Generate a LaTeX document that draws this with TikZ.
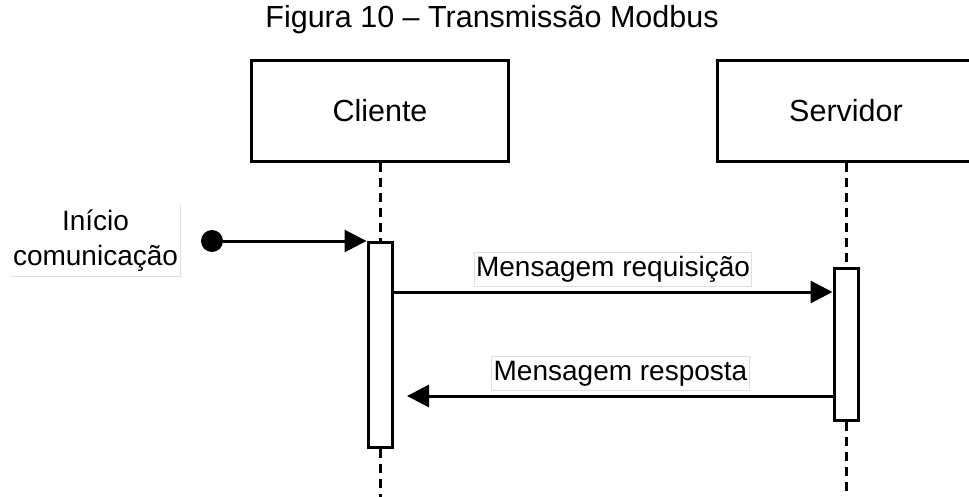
\documentclass[tikz,border=0pt]{standalone}
\usepackage{fontspec}
\setmainfont{Liberation Sans}
\usetikzlibrary{arrows.meta}

\tikzset{
  lifebox/.style={draw, line width=3pt, fill=white, minimum width=257pt,
    minimum height=101pt, inner sep=0pt, font=\fontsize{30.5}{36}\selectfont},
  actbar/.style={draw, line width=3pt, fill=white, minimum width=24pt, inner sep=0pt},
  lifeline/.style={line width=3pt, dash pattern=on 9pt off 6pt},
  msg/.style={line width=3pt, -{Triangle[length=22pt,width=22pt]}},
  msglabel/.style={draw=black!12, line width=1pt, fill=white, inner xsep=2pt,
    inner ysep=0pt, minimum height=34pt, font=\fontsize{28}{35}\selectfont},
  startdot/.style={circle, fill=black, minimum size=22pt, inner sep=0pt},
}

\begin{document}
\begin{tikzpicture}[x=1pt, y=-1pt]
  \useasboundingbox (0,0) rectangle (969,497);
  \fill[white] (0,0) rectangle (969,497);

  % caption
  \node[anchor=base, font=\fontsize{30.5}{36}\selectfont] (title) at (492,28)
    {Figura 10 – Transmissão Modbus};

  % participants
  \node[lifebox] (cli) at (380,111) {Cliente};
  \node[lifebox] (srv) at (846,111) {Servidor};

  % activation bars
  \node[actbar, minimum height=205pt] (cbar) at (380,345) {};
  \node[actbar, minimum height=152pt] (sbar) at (846,344.5) {};

  % lower ends of the lifelines and message rows
  \coordinate (cend) at (380,500);
  \coordinate (send) at (846,500);
  \coordinate (reqrow) at (0,292);
  \coordinate (resrow) at (0,396);
  \coordinate (resend) at (407,396);

  % lifelines
  \draw[lifeline] (cli.south) -- (cbar.north);
  \draw[lifeline] (cbar.south) -- (cend);
  \draw[lifeline] (srv.south) -- (sbar.north);
  \draw[lifeline] (sbar.south) -- (send);

  % redraw bars above the lifelines
  \node[actbar, minimum height=205pt] at (cbar) {};
  \node[actbar, minimum height=152pt] at (sbar) {};

  % initial message
  \node[startdot] (start) at (212,241) {};
  \node[align=center, inner sep=0pt, minimum width=169pt, minimum height=71pt,
    font=\fontsize{28}{35}\selectfont] (ini) at (95.5,240.5)
    {Início\\comunicação};
  \draw[black!12, line width=1pt] (ini.north east) -- (ini.south east) -- (ini.south west);
  \draw[msg] (start) -- (cbar.north west);

  % request
  \draw[msg] (cbar.east |- reqrow) -- (sbar.west |- reqrow);
  \node[msglabel] (reqlbl) at (613,269) {Mensagem requisição};

  % response
  \draw[msg] (sbar.west |- resrow) -- (resend);
  \node[msglabel] (reslbl) at (620.5,373.5) {Mensagem resposta};
\end{tikzpicture}
\end{document}
